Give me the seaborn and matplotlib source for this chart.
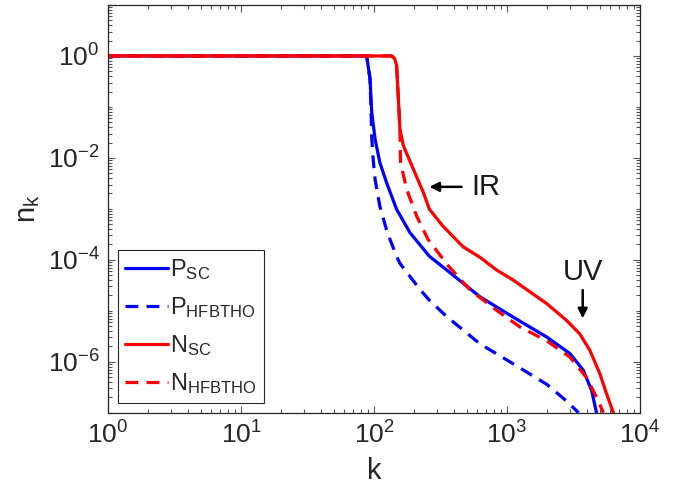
import numpy as np
import pandas as pd
import matplotlib
matplotlib.use("Agg")
import matplotlib.pyplot as plt
import matplotlib.ticker as mticker
import seaborn as sns

# ---- data ----
k_p_sc = [1, 88.1, 93.3, 96.2, 101.9, 110.7, 124.2, 147.9, 186.6, 261.2, 352.4,
          626.6, 1104, 1991, 2972, 3750, 4335, 4710]
n_p_sc = [1, 1, 0.363, 0.079, 0.0234, 8.1e-3, 3.3e-3, 9.8e-4, 3.4e-4, 1.17e-4,
          6.3e-5, 1.88e-5, 7.6e-6, 3.05e-6, 1.45e-6, 6.8e-7, 2.7e-7, 1e-7]

k_p_hfb = [1, 88.1, 93.3, 95.1, 96.2, 98.4, 101.9, 110.7, 124.2, 132.1, 147.9,
           156.7, 186.6, 217.3, 261.2, 354, 626.6, 1114, 1991, 2800, 3451]
n_p_hfb = [1, 1, 0.363, 0.079, 0.025, 0.01, 3.8e-3, 1.12e-3, 3.9e-4, 2.5e-4,
           1.17e-4, 8.5e-5, 4.7e-5, 2.8e-5, 1.6e-5, 7.6e-6, 2.24e-6, 9.1e-7,
           3.6e-7, 1.7e-7, 1e-7]

k_n_sc = [1, 135.8, 142.9, 147.9, 152.1, 156.7, 166.3, 197.7, 235, 261.2, 329.6,
          467.7, 626.6, 835.6, 1114, 1991, 2800, 3532, 4207, 5000, 5623, 6310]
n_n_sc = [1, 1, 0.89, 0.66, 0.17, 0.037, 0.0174, 6.0e-3, 2.1e-3, 9.8e-4, 4.6e-4,
          1.8e-4, 1.12e-4, 6.3e-5, 4.0e-5, 1.38e-5, 6.5e-6, 3.5e-6, 1.66e-6,
          5.75e-7, 2.3e-7, 1e-7]

k_n_hfb = [1, 135.8, 142.9, 147.9, 152.1, 156.7, 158.5, 176.2, 209.4, 255.3,
           362.2, 524.8, 835.6, 1253, 1977, 2972, 3963, 4721, 5309]
n_n_hfb = [1, 1, 0.89, 0.66, 0.17, 0.037, 8.1e-3, 2.4e-3, 7.2e-4, 2.5e-4, 7.6e-5,
           2.6e-5, 1.02e-5, 4.8e-6, 2.6e-6, 1.23e-6, 4.9e-7, 2.0e-7, 1e-7]

labels = ["P$_{SC}$", "P$_{HFBTHO}$", "N$_{SC}$", "N$_{HFBTHO}$"]
colors = ["#0000ff", "#0000ff", "#ff0000", "#ff0000"]
dashed = [False, True, False, True]

x_ticks = [1, 10, 100, 1000, 10000]
y_ticks = [1e-6, 1e-4, 1e-2, 1e0]

# ---- style ----
sns.set_theme(style="ticks")
plt.rcParams["font.family"] = ["Liberation Sans", "DejaVu Sans"]
plt.rcParams["mathtext.default"] = "regular"
plt.rcParams["axes.unicode_minus"] = False

fig = plt.figure(figsize=(6.83, 4.90), dpi=100)
ax = fig.add_axes([0.1581, 0.1578, 0.7789, 0.8320])
ax.set_xscale("log")
ax.set_yscale("log")

series = [(k_p_sc, n_p_sc), (k_p_hfb, n_p_hfb), (k_n_sc, n_n_sc), (k_n_hfb, n_n_hfb)]
handles = []
for (kk, nn), lab, col, ds in zip(series, labels, colors, dashed):
    df = pd.DataFrame({"k": kk, "n": nn})
    sns.lineplot(data=df, x="k", y="n", ax=ax, color=col, lw=2.3,
                 sort=False, estimator=None, label=lab, legend=False)
    line = ax.lines[-1]
    if ds:
        line.set_dashes([4, 2.6])
    handles.append(line)

ax.set_xlim(1, 1e4)
ax.set_ylim(1e-7, 10)
ax.set_xticks(x_ticks)
ax.set_yticks(y_ticks)
ax.xaxis.set_minor_locator(mticker.LogLocator(base=10, subs=np.arange(2, 10), numticks=20))
ax.yaxis.set_minor_locator(mticker.LogLocator(base=10, subs=np.arange(1, 10), numticks=30))
ax.xaxis.set_minor_formatter(mticker.NullFormatter())
ax.yaxis.set_minor_formatter(mticker.NullFormatter())

ax.tick_params(which="both", direction="in", bottom=True, left=True, top=True, right=True,
               color="#555555", labelcolor="#262626", width=0.8)
ax.tick_params(which="major", length=5, labelsize=19, pad=6)
ax.tick_params(which="minor", length=3)
for s in ax.spines.values():
    s.set_visible(True)
    s.set_color("#262626")
    s.set_linewidth(0.9)

ax.set_xlabel("k", fontsize=21, color="#262626", labelpad=6)
ax.set_ylabel("n$_k$", fontsize=21, color="#262626", labelpad=4)

# annotations
ax.annotate("", xy=(261, 2.7e-3), xytext=(456, 2.7e-3),
            arrowprops=dict(arrowstyle="-|>", color="black", lw=1.8,
                            mutation_scale=14, shrinkA=0, shrinkB=0))
ax.text(542, 2.7e-3, "IR", fontsize=21, va="center", ha="left", color="#1a1a1a")
ax.annotate("", xy=(3710, 7.1e-6), xytext=(3710, 2.55e-5),
            arrowprops=dict(arrowstyle="-|>", color="black", lw=1.8,
                            mutation_scale=14, shrinkA=0, shrinkB=0))
ax.text(3725, 5.85e-5, "UV", fontsize=21, va="center", ha="center", color="#1a1a1a")

leg = ax.legend(handles=handles, labels=labels, loc="lower left",
                bbox_to_anchor=(0.0188, 0.0238), borderaxespad=0,
                fontsize=17, frameon=True, fancybox=False, framealpha=1,
                handlelength=1.8, handletextpad=0.12, labelspacing=0.55,
                borderpad=0.3)
leg.get_frame().set_edgecolor("#262626")
leg.get_frame().set_linewidth(0.8)

fig.savefig("out.png", dpi=100)
